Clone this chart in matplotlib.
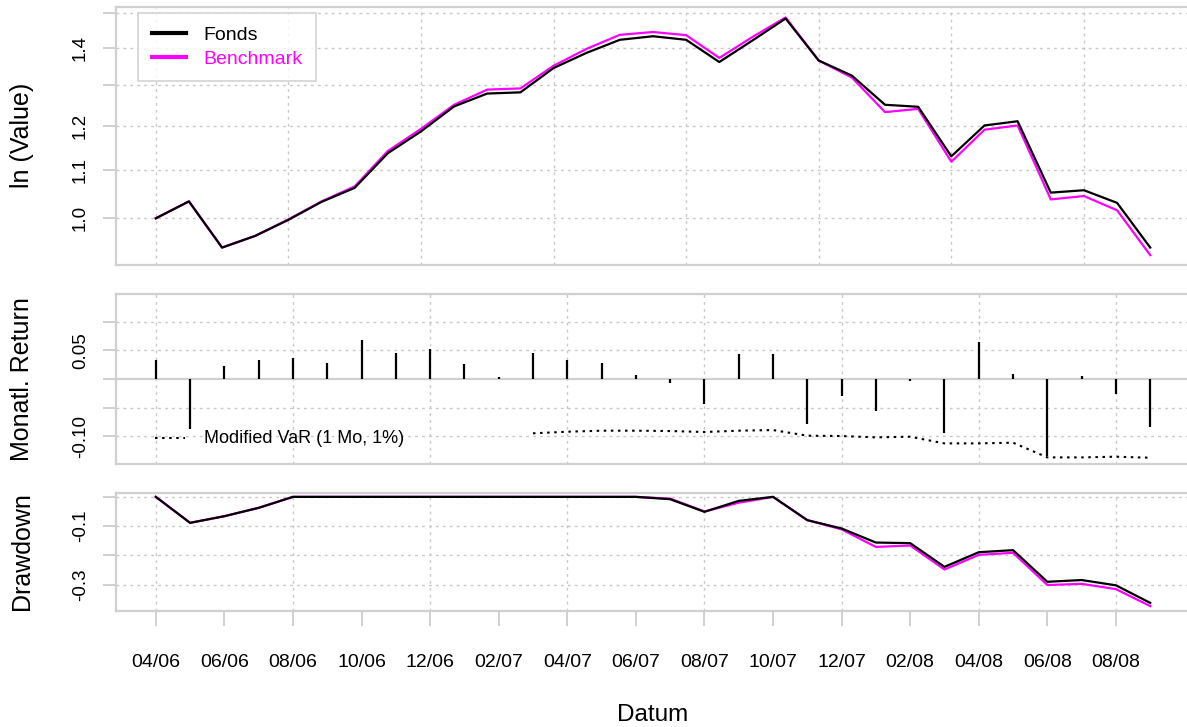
import matplotlib.pyplot as plt

plt.rcParams['font.family'] = ['Liberation Sans', 'DejaVu Sans']

# Monate 04/06 .. 09/08
months = ['04/06', '05/06', '06/06', '07/06', '08/06', '09/06', '10/06', '11/06', '12/06',
          '01/07', '02/07', '03/07', '04/07', '05/07', '06/07', '07/07', '08/07', '09/07',
          '10/07', '11/07', '12/07', '01/08', '02/08', '03/08', '04/08', '05/08', '06/08',
          '07/08', '08/08', '09/08']

# kumulierter Wert (mit Startwert 1)
fonds_value = [1.0, 1.034, 0.944, 0.966, 0.997, 1.033, 1.062, 1.137, 1.187, 1.247, 1.279,
               1.282, 1.345, 1.386, 1.422, 1.432, 1.422, 1.361, 1.42, 1.483, 1.365, 1.325,
               1.251, 1.246, 1.130, 1.201, 1.211, 1.052, 1.057, 1.031, 0.944]
bench_value = [1.0, 1.034, 0.944, 0.966, 0.998, 1.034, 1.065, 1.142, 1.193, 1.251, 1.289,
               1.292, 1.351, 1.397, 1.436, 1.444, 1.435, 1.372, 1.43, 1.486, 1.365, 1.32,
               1.233, 1.241, 1.118, 1.191, 1.201, 1.038, 1.045, 1.016, 0.930]

fonds_return = [0.033, -0.087, 0.023, 0.0325, 0.037, 0.028, 0.0685, 0.045, 0.0517, 0.0267,
                0.003, 0.046, 0.0325, 0.0285, 0.007, -0.0075, -0.0435, 0.0435, 0.043, -0.079,
                -0.029, -0.0557, -0.003, -0.0935, 0.0639, 0.0087, -0.1336, 0.0058, -0.0256,
                -0.0836]

var_start = 11
var_values = [-0.0946, -0.0918, -0.0900, -0.0900, -0.0906, -0.0923, -0.0900, -0.0889,
              -0.0987, -0.0993, -0.1016, -0.1005, -0.1121, -0.1121, -0.1109, -0.1365,
              -0.1365, -0.1353, -0.1371]

fonds_dd = [0, -0.0887, -0.066, -0.0375, 0, 0, 0, 0, 0, 0, 0, 0, 0, 0, 0, -0.008, -0.051,
            -0.0137, 0, -0.0795, -0.108, -0.156, -0.158, -0.239, -0.189, -0.182, -0.290,
            -0.284, -0.302, -0.362]
bench_dd = [0, -0.0887, -0.066, -0.0375, 0, 0, 0, 0, 0, 0, 0, 0, 0, 0, 0, -0.006, -0.05,
            -0.02, 0, -0.0795, -0.111, -0.171, -0.166, -0.248, -0.198, -0.191, -0.301,
            -0.297, -0.315, -0.373]

W, H = 1187, 727
fig = plt.figure(figsize=(W / 100, H / 100), dpi=100)

def box(top, bottom):
    return [116 / W, (H - bottom) / H, 1074 / W, (bottom - top) / H]

frame_col = '#d0d0d0'
grid_kw = dict(color='#c8c8c8', linestyle=(0, (2, 3)), linewidth=1.0, zorder=0)

def style(ax):
    for s in ax.spines.values():
        s.set_color(frame_col)
        s.set_linewidth(1.6)
    ax.tick_params(axis='y', color=frame_col, length=9.5, width=1.4, pad=10,
                   labelsize=13.5)
    for lab in ax.get_yticklabels():
        lab.set_rotation(90)
        lab.set_va('center')

ax1 = fig.add_axes(box(7, 264.5))
ax2 = fig.add_axes(box(294, 464))
ax3 = fig.add_axes(box(492.5, 610.5))

# --- oberes Panel: Wertentwicklung
x1 = list(range(len(fonds_value)))
ax1.set_yscale('log')
ax1.set_xlim(-1.2, 31.2)
ax1.set_ylim(0.913, 1.517)
for g in [1.0, 1.1, 1.2, 1.3, 1.4, 1.5]:
    ax1.axhline(g, **grid_kw)
for gx in range(0, 31, 4):
    ax1.axvline(gx, **grid_kw)
ax1.plot(x1, bench_value, color='#ff00ff', lw=1.6, label='Benchmark')
ax1.plot(x1, fonds_value, color='black', lw=1.6, label='Fonds')
ax1.set_yticks([1.0, 1.1, 1.2, 1.3, 1.4, 1.5])
ax1.set_yticklabels(['1.0', '1.1', '1.2', '', '1.4', ''])
ax1.yaxis.set_minor_locator(plt.NullLocator())
ax1.set_xticks([])
style(ax1)
h, l = ax1.get_legend_handles_labels()
leg = ax1.legend(h[::-1], l[::-1], loc='upper left', bbox_to_anchor=(0.0205, 0.977),
                 borderaxespad=0, frameon=True, fancybox=False, fontsize=14,
                 handlelength=1.75, handletextpad=0.9, borderpad=0.7, labelspacing=0.3)
leg.get_frame().set_edgecolor(frame_col)
leg.get_frame().set_linewidth(1.4)
for line in leg.get_lines():
    line.set_linewidth(3)
for txt, c in zip(leg.get_texts(), ['black', '#ff00ff']):
    txt.set_color(c)

# --- mittleres Panel: Monatsrenditen
x2 = list(range(len(fonds_return)))
ax2.set_xlim(-1.16, 30.16)
ax2.set_ylim(-0.148, 0.148)
for g in [-0.10, -0.05, 0.05, 0.10]:
    ax2.axhline(g, **grid_kw)
for gx in range(0, 30, 4):
    ax2.axvline(gx, **grid_kw)
ax2.axhline(0, color=frame_col, lw=1.6, zorder=1)
ax2.vlines(x2, 0, fonds_return, color='black', lw=1.6, zorder=3)
ax2.plot(x2[var_start:], var_values, color='black', lw=1.5, linestyle=(0, (1.2, 2.2)))
ax2.set_yticks([-0.10, -0.05, 0.0, 0.05, 0.10])
ax2.set_yticklabels(['-0.10', '', '', '0.05', ''])
ax2.set_xticks([])
style(ax2)
ax2.plot([-0.03, 0.85], [-0.1035, -0.1035], color='black', lw=1.5,
         linestyle=(0, (1.2, 2.2)))
ax2.text(1.4, -0.1035, 'Modified VaR (1 Mo, 1%)', fontsize=13, va='center')

# --- unteres Panel: Drawdown
ax3.set_xlim(-1.16, 30.16)
ax3.set_ylim(-0.388, 0.0149)
for g in [0, -0.1, -0.2, -0.3]:
    ax3.axhline(g, **grid_kw)
for gx in range(0, 30, 4):
    ax3.axvline(gx, **grid_kw)
ax3.plot(x2, bench_dd, color='#ff00ff', lw=1.6)
ax3.plot(x2, fonds_dd, color='black', lw=1.6)
ax3.set_yticks([0, -0.1, -0.2, -0.3])
ax3.set_yticklabels(['', '-0.1', '', '-0.3'])
ax3.set_xticks(x2[::2])
ax3.set_xticklabels(months[::2])
style(ax3)
ax3.tick_params(axis='x', color=frame_col, length=11, width=1.4, pad=20, labelsize=14)
ax3.set_xlabel('Datum', fontsize=17.5, labelpad=24)

fig.text(22 / W, 1 - 135 / H, 'ln (Value)', rotation=90, ha='center', va='center',
         fontsize=18)
fig.text(22 / W, 1 - 379 / H, 'Monatl. Return', rotation=90, ha='center', va='center',
         fontsize=18)
fig.text(22 / W, 1 - 551 / H, 'Drawdown', rotation=90, ha='center', va='center',
         fontsize=18)

fig.savefig('out.png', dpi=100)
